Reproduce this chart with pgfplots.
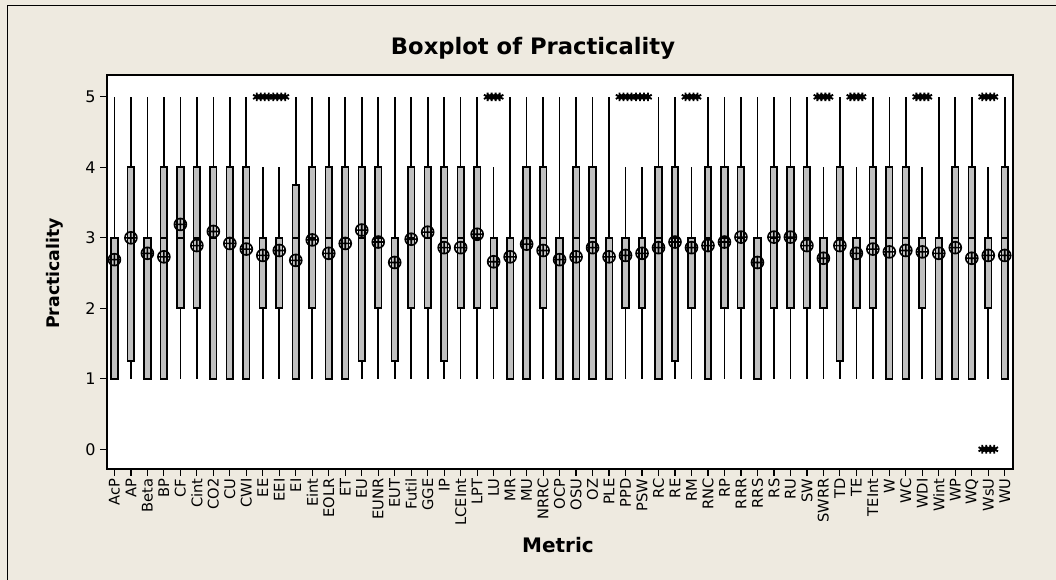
\documentclass[border=0pt]{standalone}
\usepackage{pgfplots}
\pgfplotsset{compat=1.18}
\usepgfplotslibrary{statistics}
\usepackage{fontspec}
\setmainfont{DejaVu Sans}
\definecolor{beige}{RGB}{238,234,224}
\definecolor{boxgray}{RGB}{192,192,192}
\pgfdeclareplotmark{multistar}{%
  \foreach \dx in {-4.5,-1.5,1.5,4.5}{%
    \pgfscope\pgftransformshift{\pgfpoint{\dx pt}{0pt}}\pgfuseplotmark{asterisk}\endpgfscope}%
}
\newcommand\bx[6]{\addplot[draw=black, fill=boxgray, line width=1.25pt,
  boxplot/draw direction=y,
  boxplot prepared={draw position=#1, lower whisker=#2, lower quartile=#3,
  median=#4, upper quartile=#5, upper whisker=#6, box extend=0.4, whisker extend=0}]
  coordinates {};}
\begin{document}
\begin{tikzpicture}
\fill[beige] (0,0) rectangle (792pt,435pt);
\useasboundingbox (0,0) rectangle (792pt,435pt);
\draw[line width=1.1pt] (5.6pt,0) -- (5.6pt,430.7pt) -- (792pt,430.7pt);
\begin{axis}[
  at={(80.25pt,83.25pt)}, anchor=south west,
  scale only axis, width=679.5pt, height=295.5pt,
  xmin=0.55, xmax=55.5, ymin=-0.28, ymax=5.31,
  axis background/.style={fill=white},
  axis line style={line width=1.1pt},
  tick align=outside, xtick pos=left, ytick pos=left,
  major tick length=5pt,
  tick style={line width=0.9pt, black},
  ytick={0,1,2,3,4,5},
  xtick={1,...,55},
  xticklabels={AcP,AP,Beta,BP,CF,Cint,CO2,CU,CWI,EE,EEI,EI,Eint,EOLR,ET,EU,EUNR,EUT,Futil,GGE,IP,LCEInt,LPT,LU,MR,MU,NRRC,OCP,OSU,OZ,PLE,PPD,PSW,RC,RE,RM,RNC,RP,RRR,RRS,RS,RU,SW,SWRR,TD,TE,TEInt,W,WC,WDI,Wint,WP,WQ,WsU,WU},
  x tick label style={rotate=90, anchor=east, font=\fontsize{11}{11}\selectfont, inner sep=2pt},
  y tick label style={font=\fontsize{12}{14}\selectfont},
  /pgf/number format/assume math mode=true,
  clip=false,
]
\bx{1}{1}{1}{3}{3}{5}
\bx{2}{1}{1.25}{3}{4}{5}
\bx{3}{1}{1}{3}{3}{5}
\bx{4}{1}{1}{3}{4}{5}
\bx{5}{1}{2}{3}{4}{5}
\bx{6}{1}{2}{3}{4}{5}
\bx{7}{1}{1}{3}{4}{5}
\bx{8}{1}{1}{3}{4}{5}
\bx{9}{1}{1}{3}{4}{5}
\bx{10}{1}{2}{3}{3}{4}
\bx{11}{1}{2}{3}{3}{4}
\bx{12}{1}{1}{3}{3.75}{5}
\bx{13}{1}{2}{3}{4}{5}
\bx{14}{1}{1}{3}{4}{5}
\bx{15}{1}{1}{3}{4}{5}
\bx{16}{1}{1.25}{3}{4}{5}
\bx{17}{1}{2}{3}{4}{5}
\bx{18}{1}{1.25}{3}{3}{5}
\bx{19}{1}{2}{3}{4}{5}
\bx{20}{1}{2}{3}{4}{5}
\bx{21}{1}{1.25}{3}{4}{5}
\bx{22}{1}{2}{3}{4}{5}
\bx{23}{1}{2}{3}{4}{5}
\bx{24}{1}{2}{3}{3}{4}
\bx{25}{1}{1}{3}{3}{5}
\bx{26}{1}{1}{3}{4}{5}
\bx{27}{1}{2}{3}{4}{5}
\bx{28}{1}{1}{3}{3}{5}
\bx{29}{1}{1}{3}{4}{5}
\bx{30}{1}{1}{3}{4}{5}
\bx{31}{1}{1}{3}{3}{5}
\bx{32}{1}{2}{3}{3}{4}
\bx{33}{1}{2}{3}{3}{4}
\bx{34}{1}{1}{3}{4}{5}
\bx{35}{1}{1.25}{3}{4}{5}
\bx{36}{1}{2}{3}{3}{4}
\bx{37}{1}{1}{3}{4}{5}
\bx{38}{1}{2}{3}{4}{5}
\bx{39}{1}{2}{3}{4}{5}
\bx{40}{1}{1}{3}{3}{5}
\bx{41}{1}{2}{3}{4}{5}
\bx{42}{1}{2}{3}{4}{5}
\bx{43}{1}{2}{3}{4}{5}
\bx{44}{1}{2}{3}{3}{4}
\bx{45}{1}{1.25}{3}{4}{5}
\bx{46}{1}{2}{3}{3}{4}
\bx{47}{1}{2}{3}{4}{5}
\bx{48}{1}{1}{3}{4}{5}
\bx{49}{1}{1}{3}{4}{5}
\bx{50}{1}{2}{3}{3}{4}
\bx{51}{1}{1}{3}{3}{5}
\bx{52}{1}{1}{3}{4}{5}
\bx{53}{1}{1}{3}{4}{5}
\bx{54}{1}{2}{3}{3}{4}
\bx{55}{1}{1}{3}{4}{5}
% means
\addplot[only marks, mark=oplus, mark size=4.5pt, line width=1.2pt, black] table[row sep=\\]{
x y\\ 1 2.69\\ 2 3.00\\ 3 2.78\\ 4 2.73\\ 5 3.19\\ 6 2.89\\ 7 3.09\\ 8 2.92\\ 9 2.84\\ 10 2.75\\
11 2.82\\ 12 2.68\\ 13 2.97\\ 14 2.78\\ 15 2.92\\ 16 3.11\\ 17 2.94\\ 18 2.65\\ 19 2.98\\ 20 3.08\\
21 2.86\\ 22 2.86\\ 23 3.05\\ 24 2.66\\ 25 2.73\\ 26 2.91\\ 27 2.82\\ 28 2.69\\ 29 2.73\\ 30 2.86\\
31 2.73\\ 32 2.75\\ 33 2.78\\ 34 2.86\\ 35 2.94\\ 36 2.86\\ 37 2.89\\ 38 2.94\\ 39 3.01\\ 40 2.65\\
41 3.01\\ 42 3.01\\ 43 2.89\\ 44 2.71\\ 45 2.89\\ 46 2.78\\ 47 2.84\\ 48 2.80\\ 49 2.82\\ 50 2.80\\
51 2.78\\ 52 2.86\\ 53 2.71\\ 54 2.75\\ 55 2.75\\
};
% outliers
\addplot[only marks, mark=multistar, mark size=3.2pt, line width=1.4pt, black] table[row sep=\\]{
x y\\ 10 5\\ 11 5\\ 24 5\\ 32 5\\ 33 5\\ 36 5\\ 44 5\\ 46 5\\ 50 5\\ 54 5\\ 54 0\\
};
\end{axis}
\node[anchor=base, font=\bfseries\fontsize{17}{20}\selectfont] at (399.75pt,393.75pt) {Boxplot of Practicality};
\node[anchor=base, font=\bfseries\fontsize{15}{18}\selectfont] at (418.5pt,20.25pt) {Metric};
\node[rotate=90, font=\bfseries\fontsize{13}{16}\selectfont] at (41.25pt,229.9pt) {Practicality};
\end{tikzpicture}
\end{document}
